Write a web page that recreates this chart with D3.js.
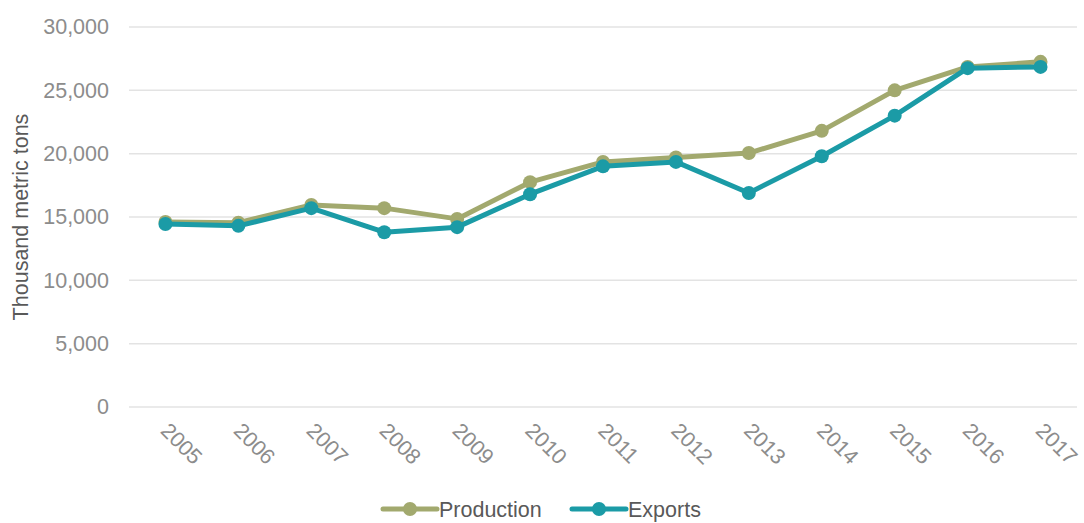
<!DOCTYPE html>
<html>
<head>
<meta charset="utf-8">
<script src="https://cdn.jsdelivr.net/npm/d3@7"></script>
<style>
	body { margin: 0; background: #fff; }
	svg { font-family: "Liberation Sans", Arial, sans-serif; }
</style>
</head>
<body>
<script>
// chart data
const years = ["2005", "2006", "2007", "2008", "2009", "2010", "2011", "2012", "2013", "2014", "2015", "2016", "2017"];
const production = [14600, 14550, 15950, 15700, 14850, 17750, 19350, 19700, 20050, 21800, 25000, 26850, 27250];
const exportsVals = [14450, 14300, 15700, 13800, 14200, 16800, 19000, 19350, 16900, 19800, 23000, 26750, 26850];
const yTicks = [0, 5000, 10000, 15000, 20000, 25000, 30000];

const seriesList = [
	{ name: "Production", values: production, color: "#a2a96e" },
	{ name: "Exports", values: exportsVals, color: "#1b9ba6" }
];

const width = 1084;
const height = 523;
const margin = { top: 27, right: 7, bottom: 116, left: 129 };
const fontSize = "21.5px";

const svg = d3
	.select("body")
	.append("svg")
	.attr("width", width)
	.attr("height", height);

const x = d3
	.scaleBand()
	.domain(years)
	.range([margin.left, width - margin.right]);

const y = d3
	.scaleLinear()
	.domain([0, 30000])
	.range([height - margin.bottom, margin.top]);

// gridlines
svg.append("g")
	.selectAll("line")
	.data(yTicks)
	.enter()
	.append("line")
	.attr("x1", margin.left)
	.attr("x2", width - margin.right)
	.attr("y1", (d) => y(d))
	.attr("y2", (d) => y(d))
	.attr("stroke", "#e3e3e3")
	.attr("stroke-width", 1.5);

// y axis labels
const yAxis = svg
	.append("g")
	.attr("transform", `translate(${margin.left},0)`)
	.call(d3.axisLeft(y).tickValues(yTicks).tickFormat(d3.format(",")).tickSize(0).tickPadding(20));
yAxis.select(".domain").remove();
yAxis.selectAll("text")
	.attr("fill", "#8c8c8c")
	.style("font-size", fontSize)
	.style("font-family", "Liberation Sans, Arial, sans-serif");

// x axis labels, rotated
const xAxis = svg
	.append("g")
	.attr("transform", `translate(0,${height - margin.bottom})`)
	.call(d3.axisBottom(x).tickSize(0));
xAxis.select(".domain").remove();
xAxis.selectAll("text")
	.attr("fill", "#8c8c8c")
	.style("font-size", fontSize)
	.style("font-family", "Liberation Sans, Arial, sans-serif")
	.attr("text-anchor", "start")
	.attr("dy", 0)
	.attr("y", 0)
	.attr("transform", "translate(-6,25) rotate(45)");

// y title
svg.append("text")
	.attr("transform", `translate(28,${(margin.top + height - margin.bottom) / 2}) rotate(-90)`)
	.attr("text-anchor", "middle")
	.attr("fill", "#595959")
	.style("font-size", fontSize)
	.text("Thousand metric tons");

const cx = (i) => x(years[i]) + x.bandwidth() / 2;
const line = d3
	.line()
	.x((d, i) => cx(i))
	.y((d) => y(d));

seriesList.forEach((s) => {
	svg.append("path")
		.datum(s.values)
		.attr("fill", "none")
		.attr("stroke", s.color)
		.attr("stroke-width", 5)
		.attr("stroke-linejoin", "round")
		.attr("d", line);
	svg.append("g")
		.selectAll("circle")
		.data(s.values)
		.enter()
		.append("circle")
		.attr("cx", (d, i) => cx(i))
		.attr("cy", (d) => y(d))
		.attr("r", 7)
		.attr("fill", s.color);
});

// legend
const legendX = [383, 572];
const legendY = 509;
seriesList.forEach((s, i) => {
	const g = svg.append("g").attr("transform", `translate(${legendX[i]},${legendY})`);
	g.append("line")
		.attr("x1", 0)
		.attr("x2", 54)
		.attr("stroke", s.color)
		.attr("stroke-width", 5)
		.attr("stroke-linecap", "round");
	g.append("circle").attr("cx", 27).attr("r", 7).attr("fill", s.color);
	g.append("text")
		.attr("x", 56)
		.attr("dy", "0.35em")
		.attr("fill", "#595959")
		.style("font-size", fontSize)
		.text(s.name);
});
</script>
</body>
</html>
